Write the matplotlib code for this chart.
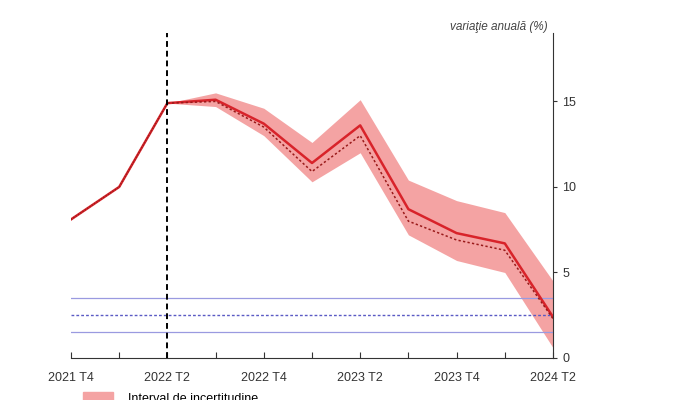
import matplotlib.pyplot as plt
from matplotlib.patches import Patch

plt.rcParams['font.family'] = ['Liberation Sans', 'DejaVu Sans']

quarters = ['2021 T4', '2022 T1', '2022 T2', '2022 T3', '2022 T4', '2023 T1',
            '2023 T2', '2023 T3', '2023 T4', '2024 T1', '2024 T2']

# actual inflation (history)
hist = [8.1, 10.0, 14.9]
# current forecast (solid), previous forecast (dotted), from 2022 T2
fc = [14.9, 15.1, 13.7, 11.4, 13.6, 8.7, 7.3, 6.7, 2.4]
fc_prev = [14.9, 15.0, 13.5, 10.9, 13.0, 8.0, 6.9, 6.3, 2.3]
band_hi = [14.9, 15.5, 14.6, 12.6, 15.1, 10.4, 9.2, 8.5, 4.5]
band_lo = [14.9, 14.7, 13.0, 10.3, 12.0, 7.2, 5.7, 5.0, 0.6]

target = 2.5
target_band = [1.5, 3.5]

x_all = list(range(len(quarters)))
x_hist = x_all[:3]
x_fc = x_all[2:]

fig = plt.figure(figsize=(7, 4), dpi=100)
ax = fig.add_axes([0.1014, 0.105, 0.6886, 0.8125])

red = '#d8232a'
ax.fill_between(x_fc, band_lo, band_hi, color='#f4a3a3', lw=0, zorder=1)
ax.plot(x_hist, hist, color=red, lw=1.8, zorder=3)
ax.plot(x_hist, hist, color='#9a1a1a', lw=1.0, ls=(0, (1, 1)), zorder=4)
ax.plot(x_fc, fc, color=red, lw=1.8, zorder=3)
ax.plot(x_fc, fc_prev, color='#9a1a1a', lw=1.1, ls=(0, (1.5, 1.5)), zorder=4)

for v in target_band:
    ax.axhline(v, color='#9a9ae0', lw=0.9, zorder=2)
ax.axhline(target, color='#5a5ac4', lw=1.0, ls=(0, (2, 1.5)), zorder=2)

ax.axvline(2, color='black', lw=1.4, ls=(0, (3, 2)), zorder=5)

ax.set_xlim(0, 10)
ax.set_ylim(0, 19)

ax.spines['left'].set_visible(False)
ax.spines['top'].set_visible(False)
ax.spines['right'].set_color('#333333')
ax.spines['bottom'].set_color('#333333')
ax.yaxis.tick_right()
ax.set_yticks([0, 5, 10, 15])
ax.tick_params(axis='y', direction='out', length=3, labelsize=9, colors='#333333')

ax.set_xticks(x_all)
ax.set_xticklabels([q if i % 2 == 0 else '' for i, q in enumerate(quarters)])
ax.tick_params(axis='x', direction='in', length=4, pad=10, labelsize=9, colors='#333333')

fig.text(0.783, 0.932, 'variaţie anuală (%)', ha='right', va='center',
         fontsize=8.5, style='italic', color='#444444')

fig.legend(handles=[Patch(color='#f4a3a3', label='Interval de incertitudine')],
           loc='center left', bbox_to_anchor=(0.102, 0.004), frameon=False,
           fontsize=9, handlelength=2.4, handleheight=1.0, handletextpad=1.2)

fig.savefig('out.png', dpi=100)
